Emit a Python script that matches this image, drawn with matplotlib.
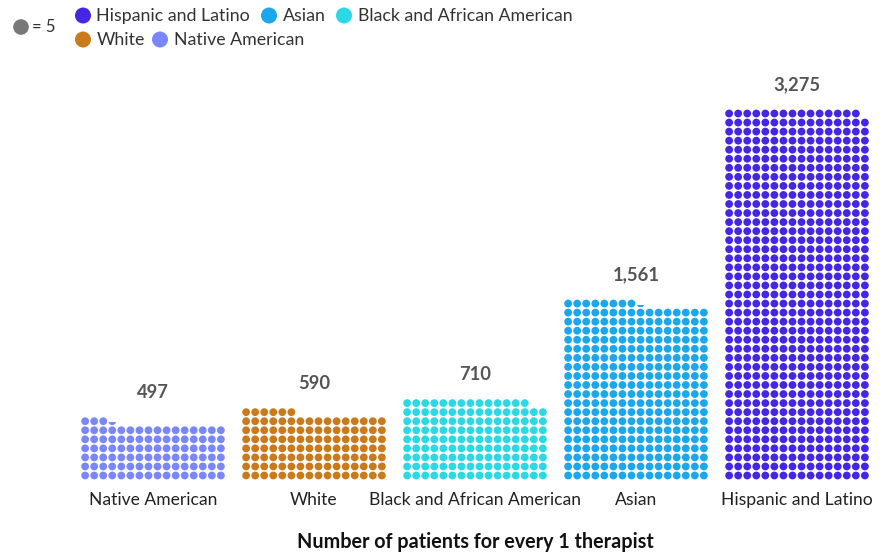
import numpy as np
import matplotlib
matplotlib.use("Agg")
import matplotlib.pyplot as plt
from matplotlib.patches import Circle, Rectangle

plt.rcParams['font.family'] = ['Lato', 'DejaVu Sans']

# ---- data ----
categories = ["Native American", "White", "Black and African American", "Asian", "Hispanic and Latino"]
values = [497, 590, 710, 1561, 3275]
value_labels = ["497", "590", "710", "1,561", "3,275"]
colors = ["#7a87fb", "#c97a1b", "#2bd9e6", "#1aa7ec", "#4526e4"]
legend_order = ["Hispanic and Latino", "Asian", "Black and African American", "White", "Native American"]
unit = 5
ncols = 16
xlabel = "Number of patients for every 1 therapist"

# ---- layout (pixel-like data coordinates) ----
W, H = 883, 554
fig = plt.figure(figsize=(W / 100, H / 100), dpi=100)
ax = fig.add_axes([0, 0, 1, 1])
ax.set_xlim(0, W)
ax.set_ylim(H, 0)
ax.axis("off")

group_x0 = 153
group_dx = 161
step = 9.05
bottom_y = 475.5
dot_r = 3.9


def segment_height(frac, r):
    # height h of bottom circular segment with area fraction frac
    lo, hi = 0.0, 2 * r
    for _ in range(60):
        h = (lo + hi) / 2
        a = r * r * np.arccos((r - h) / r) - (r - h) * np.sqrt(max(2 * r * h - h * h, 0))
        if a / (np.pi * r * r) < frac:
            lo = h
        else:
            hi = h
    return (lo + hi) / 2


for i, (cat, val, lab, col) in enumerate(zip(categories, values, value_labels, colors)):
    cx = group_x0 + i * group_dx
    ndots = val / unit
    nfull = int(np.floor(ndots))
    frac = ndots - nfull
    xs, ys = [], []
    for k in range(nfull):
        r, c = divmod(k, ncols)
        xs.append(cx + (c - (ncols - 1) / 2) * step)
        ys.append(bottom_y - r * step)
    for x, y in zip(xs, ys):
        ax.add_patch(Circle((x, y), dot_r, color=col, lw=0))
    top_row = (nfull - 1) // ncols
    if frac > 1e-6:
        r, c = divmod(nfull, ncols)
        x = cx + (c - (ncols - 1) / 2) * step
        y = bottom_y - r * step
        circ = Circle((x, y), dot_r, color=col, lw=0)
        ax.add_patch(circ)
        h = segment_height(frac, dot_r)
        clip = Rectangle((x - dot_r, y + dot_r - h), 2 * dot_r, h, transform=ax.transData)
        circ.set_clip_path(clip)
        top_row = max(top_row, r)
    top_y = bottom_y - top_row * step
    ax.text(cx, top_y - 28.5, lab, ha="center", va="center", fontsize=13.2,
            fontweight="bold", color="#555555")
    ax.text(cx, 500, cat, ha="center", va="center", fontsize=12.6, color="#222222")

ax.text((group_x0 + group_x0 + 4 * group_dx) / 2, 542, xlabel, ha="center", va="center",
        fontsize=14.2, fontweight="bold", color="#111111")

# ---- legend ----
ax.add_patch(Circle((21, 27), 7.8, color="#787878", lw=0))
ax.text(32, 27.5, "= 5", ha="left", va="center", fontsize=12, color="#333333")
leg_pos = {
    "Hispanic and Latino": (83, 15.5),
    "Asian": (269, 15.5),
    "Black and African American": (344, 15.5),
    "White": (83, 39.5),
    "Native American": (160, 39.5),
}
for name in legend_order:
    col = colors[categories.index(name)]
    x, y = leg_pos[name]
    ax.add_patch(Circle((x, y), 8.0, color=col, lw=0))
    ax.text(x + 13.5, y + 0.5, name, ha="left", va="center", fontsize=12.8, color="#333333")

fig.savefig("out.png", dpi=100)
